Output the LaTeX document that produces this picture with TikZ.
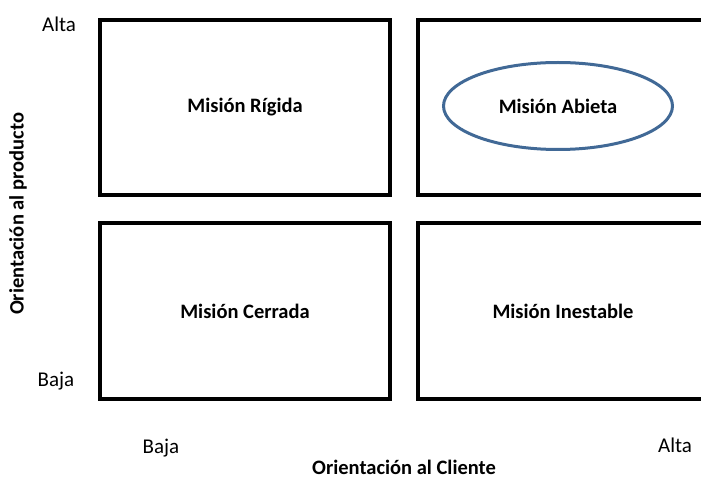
\documentclass[tikz,border=0pt]{standalone}
\usepackage{fontspec}
\setmainfont{Carlito}
\usepackage{tikz}
\usetikzlibrary{shapes,positioning}

\definecolor{azulmision}{RGB}{65,105,150}

\tikzset{
	cuadro/.style={draw=black, line width=4pt, rectangle, minimum width=290pt, minimum height=175pt, font=\fontsize{20.5}{24}\selectfont\bfseries},
	nivel/.style={inner sep=0pt, font=\fontsize{21}{24}\selectfont},
	eje/.style={inner sep=0pt, font=\fontsize{20.5}{24}\selectfont\bfseries}
}

\begin{document}
\begin{tikzpicture}[x=1pt, y=-1pt]
				\useasboundingbox (0,0) rectangle (701,478);
				\clip (0,0) rectangle (701,478);
				% cuadrantes
				\node [cuadro] (rigida) at (245,107.5) {Misi\'on R\'igida};
				\node [cuadro] (abierta) at (563,107.5) {};
				\node [cuadro] (cerrada) at (245,311) {Misi\'on Cerrada};
				\node [cuadro] (inestable) at (563,311) {Misi\'on Inestable};
				% elipse
				\node [draw=azulmision, line width=3pt, ellipse, minimum width=229pt, minimum height=87pt, font=\fontsize{20.5}{24}\selectfont\bfseries] (elipse) at (558,106) {Misi\'on Abieta};
				% niveles
				\node [nivel] (altay) at (59,24) {Alta};
				\node [nivel] (bajay) at (56,381) {Baja};
				\node [nivel] (bajax) at (161,448) {Baja};
				\node [nivel] (altax) at (675,445) {Alta};
				% ejes
				\node [eje] (ejex) at (404,467) {Orientaci\'on al Cliente};
				\node [eje, rotate=90] (ejey) at (18,214) {Orientaci\'on al producto};
\end{tikzpicture}
\end{document}
